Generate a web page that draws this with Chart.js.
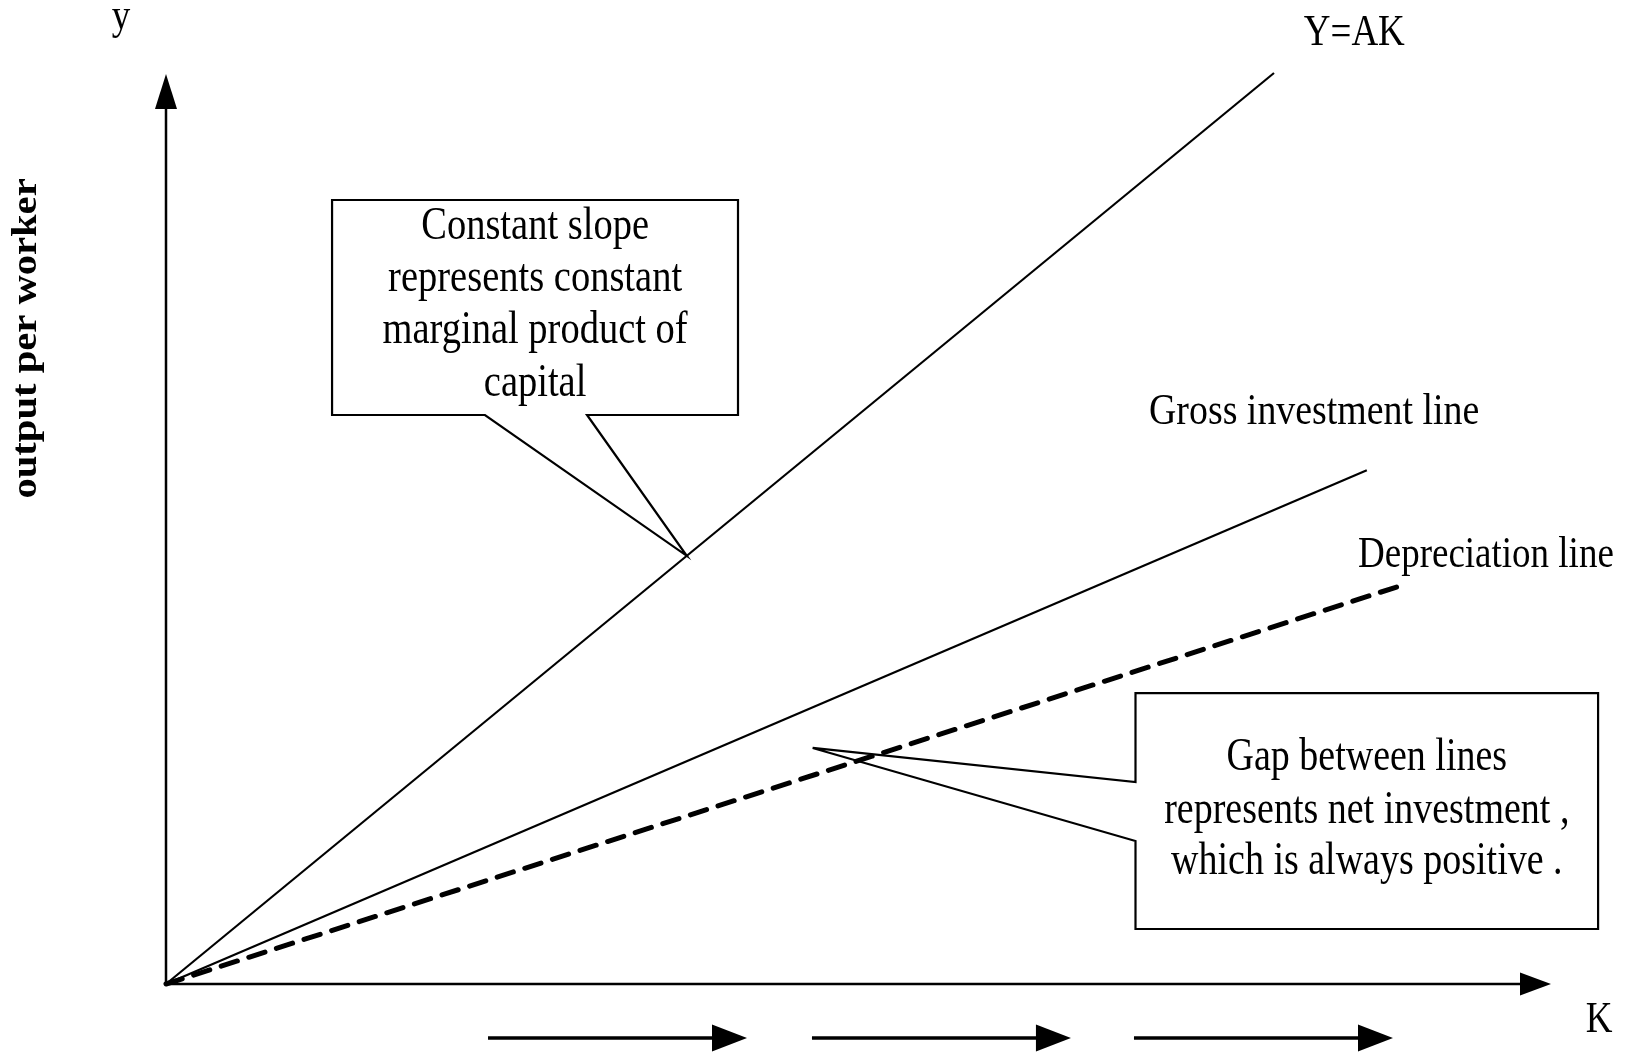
<!DOCTYPE html>
<html>
<head>
<meta charset="utf-8">
<script src="https://cdn.jsdelivr.net/npm/chart.js@4/dist/chart.umd.min.js"></script>
<style>
  html, body { margin: 0; padding: 0; background: #ffffff; }
  canvas { display: block; }
</style>
</head>
<body>
<canvas id="c" width="1627" height="1052"></canvas>
<script>
// ---- Data (K on x, output per worker on y) ----
const seriesNames = ['Y=AK', 'Gross investment line', 'Depreciation line'];
const capitalYAK = [0, 80];
const outputYAK = [0, 100];
const capitalGross = [0, 86.7];
const grossInvestment = [0, 56.4];
const capitalDep = [0, 88.9];
const depreciation = [0, 43.6];

const axisLabels = { y: 'y', x: 'K', yTitle: 'output per worker' };
const calloutSlope = ['Constant slope', 'represents constant', 'marginal product of', 'capital'];
const calloutGap = ['Gap between lines', 'represents net investment ,', 'which is always positive .'];

function pts(xs, ys) { return xs.map((x, i) => ({ x: x, y: ys[i] })); }

const SERIF = "'Liberation Serif', 'Times New Roman', serif";
const STRETCH = 1.2;

function text(ctx, str, x, y, size, opts) {
  opts = opts || {};
  ctx.save();
  ctx.translate(x, y);
  if (opts.rotate) ctx.rotate(opts.rotate);
  if (opts.rotate) ctx.scale(opts.stretch || STRETCH, 1); else ctx.scale(opts.wide || 1, opts.stretch || STRETCH);
  ctx.font = (opts.bold ? 'bold ' : '') + size + 'px ' + SERIF;
  ctx.fillStyle = '#000';
  ctx.textAlign = opts.align || 'center';
  ctx.textBaseline = 'middle';
  ctx.fillText(str, 0, 0);
  ctx.restore();
}

function arrowHead(ctx, tipX, tipY, dir, len, half) {
  ctx.beginPath();
  if (dir === 'up') {
    ctx.moveTo(tipX, tipY);
    ctx.lineTo(tipX - half, tipY + len);
    ctx.lineTo(tipX + half, tipY + len);
  } else {
    ctx.moveTo(tipX, tipY);
    ctx.lineTo(tipX - len, tipY - half);
    ctx.lineTo(tipX - len, tipY + half);
  }
  ctx.closePath();
  ctx.fillStyle = '#000';
  ctx.fill();
}

const diagramPlugin = {
  id: 'diagram',
  beforeDatasetsDraw(chart) {
    const ctx = chart.ctx;
    const xs = chart.scales.x, ys = chart.scales.y;
    const X = v => xs.getPixelForValue(v), Y = v => ys.getPixelForValue(v);
    ctx.save();
    ctx.strokeStyle = '#000';
    ctx.lineWidth = 2.5;
    // y axis
    ctx.beginPath();
    ctx.moveTo(X(0), Y(0));
    ctx.lineTo(X(0), Y(97));
    ctx.stroke();
    arrowHead(ctx, X(0), Y(99.9), 'up', 35, 11);
    // x axis
    ctx.beginPath();
    ctx.moveTo(X(0), Y(0));
    ctx.lineTo(X(98.5), Y(0));
    ctx.stroke();
    arrowHead(ctx, X(100), Y(0), 'right', 31, 11.5);
    ctx.restore();
  },
  afterDatasetsDraw(chart) {
    const ctx = chart.ctx;
    const xs = chart.scales.x, ys = chart.scales.y;
    const X = v => xs.getPixelForValue(v), Y = v => ys.getPixelForValue(v);
    ctx.save();
    ctx.strokeStyle = '#000';
    ctx.lineJoin = 'miter';

    // Callout 1 (box with wedge pointing at Y=AK)
    ctx.lineWidth = 2.2;
    ctx.beginPath();
    ctx.moveTo(X(11.99), Y(86.06));
    ctx.lineTo(X(41.3), Y(86.06));
    ctx.lineTo(X(41.3), Y(62.46));
    ctx.lineTo(X(30.4), Y(62.46));
    ctx.lineTo(X(37.6), Y(47.0));
    ctx.lineTo(X(23.03), Y(62.46));
    ctx.lineTo(X(11.99), Y(62.46));
    ctx.closePath();
    ctx.stroke();
    const c1y = [83.1, 77.4, 71.7, 65.9];
    calloutSlope.forEach((s, i) => text(ctx, s, X(26.65), Y(c1y[i]), 38.5));

    // Callout 2 (box with wedge pointing into the gap)
    ctx.beginPath();
    ctx.moveTo(X(70.0), Y(31.94));
    ctx.lineTo(X(103.4), Y(31.94));
    ctx.lineTo(X(103.4), Y(6.04));
    ctx.lineTo(X(70.0), Y(6.04));
    ctx.lineTo(X(70.0), Y(15.7));
    ctx.lineTo(X(46.69), Y(25.91));
    ctx.lineTo(X(70.0), Y(22.17));
    ctx.closePath();
    ctx.stroke();
    const c2y = [24.81, 18.99, 13.39];
    calloutGap.forEach((s, i) => text(ctx, s, X(86.7), Y(c2y[i]), 38));

    // Series labels
    text(ctx, seriesNames[0], X(85.8), Y(104.4), 37);
    text(ctx, seriesNames[1], X(82.9), Y(62.8), 37.5, { wide: 1.01 });
    text(ctx, seriesNames[2], X(95.3), Y(47.1), 37);

    // Axis labels
    text(ctx, axisLabels.y, X(-3.25), Y(106.1), 37);
    text(ctx, axisLabels.x, X(103.47), Y(-4.02), 37);
    text(ctx, axisLabels.yTitle, X(-10.04), Y(70.86), 35, { bold: true, rotate: -Math.PI / 2, stretch: 1.16 });

    // Bottom arrows showing K rising over time
    const arrows = [[23.25, 41.95], [46.64, 65.34], [69.89, 88.59]];
    ctx.lineWidth = 3.5;
    arrows.forEach(a => {
      ctx.beginPath();
      ctx.moveTo(X(a[0]), Y(-5.93));
      ctx.lineTo(X(a[1]) - 30, Y(-5.93));
      ctx.stroke();
      arrowHead(ctx, X(a[1]), Y(-5.93), 'right', 35, 13.5);
    });
    ctx.restore();
  }
};

new Chart(document.getElementById('c'), {
  type: 'line',
  data: {
    datasets: [
      { label: seriesNames[0], data: pts(capitalYAK, outputYAK), borderColor: '#000', borderWidth: 2.2, pointRadius: 0, fill: false, clip: false, tension: 0 },
      { label: seriesNames[1], data: pts(capitalGross, grossInvestment), borderColor: '#000', borderWidth: 2.2, pointRadius: 0, fill: false, clip: false, tension: 0 },
      { label: seriesNames[2], data: pts(capitalDep, depreciation), borderColor: '#000', borderWidth: 5, borderDash: [17, 12], borderCapStyle: 'round', pointRadius: 0, fill: false, clip: false, tension: 0 }
    ]
  },
  options: {
    responsive: false,
    animation: false,
    devicePixelRatio: 1,
    layout: { padding: { left: 166, right: 76, top: 73, bottom: 68 } },
    plugins: { legend: { display: false }, tooltip: { enabled: false }, title: { display: false } },
    events: [],
    scales: {
      x: { type: 'linear', min: 0, max: 100, display: false },
      y: { type: 'linear', min: 0, max: 100, display: false }
    }
  },
  plugins: [diagramPlugin]
});
</script>
</body>
</html>
